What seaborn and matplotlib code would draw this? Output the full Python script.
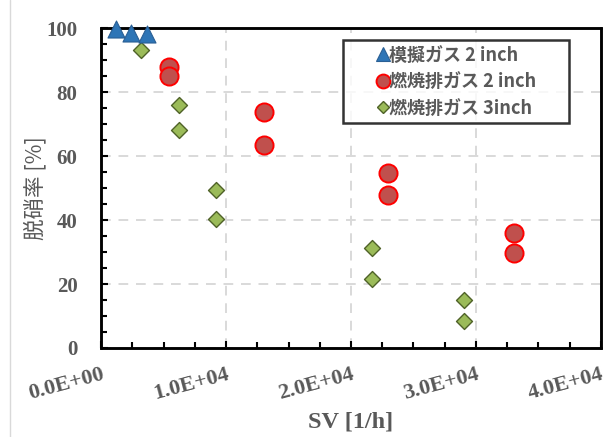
import numpy as np
import pandas as pd
import matplotlib
matplotlib.use('Agg')
import matplotlib.pyplot as plt
import seaborn as sns
from matplotlib.ticker import MultipleLocator, FuncFormatter
from matplotlib.lines import Line2D
from matplotlib.patches import Rectangle

# data
sim_sv = [1200, 2400, 3650]
sim_nox = [99.6, 98.6, 98.3]

comb2_sv = [5400, 5400, 13000, 13000, 23000, 23000, 33050, 33050]
comb2_nox = [87.8, 84.9, 73.9, 63.5, 54.6, 47.9, 35.9, 29.7]

comb3_sv = [3200, 6200, 6200, 9200, 9200, 21700, 21700, 29050, 29050]
comb3_nox = [93.2, 76.0, 68.1, 49.3, 40.2, 31.3, 21.6, 15.1, 8.3]

labels = ['模擬ガス 2 inch', '燃焼排ガス 2 inch', '燃焼排ガス 3inch']

sns.set_style('white')
plt.rcParams['font.family'] = ['Noto Sans CJK JP', 'DejaVu Sans']

gray = '#595959'

fig = plt.figure(figsize=(6.06, 4.37), dpi=100)
ax = fig.add_axes([0.1667, 0.2037, 0.825, 0.732])

ax.grid(True, which='major', color='#D9D9D9', linestyle=(0, (5, 4)), linewidth=1.4)
ax.set_axisbelow(True)

df_sim = pd.DataFrame({'sv': sim_sv, 'nox': sim_nox})
df_c2 = pd.DataFrame({'sv': comb2_sv, 'nox': comb2_nox})
df_c3 = pd.DataFrame({'sv': comb3_sv, 'nox': comb3_nox})

sns.scatterplot(data=df_sim, x='sv', y='nox', ax=ax, marker='^', s=150,
                color='#2E75B6', edgecolor='#2A5F94', linewidth=0.8,
                clip_on=False, zorder=7)
sns.scatterplot(data=df_c2, x='sv', y='nox', ax=ax, marker='o', s=170,
                color='#C0504D', edgecolor='#FF0000', linewidth=1.4,
                clip_on=False, zorder=4)
sns.scatterplot(data=df_c3, x='sv', y='nox', ax=ax, marker='D', s=66,
                color='#9BBB59', edgecolor='#4F6228', linewidth=1.0,
                clip_on=False, zorder=4)

ax.set_xlim(0, 40000)
ax.set_ylim(0, 100)
ax.xaxis.set_major_locator(MultipleLocator(10000))
ax.xaxis.set_minor_locator(MultipleLocator(2500))
ax.yaxis.set_major_locator(MultipleLocator(20))
ax.yaxis.set_minor_locator(MultipleLocator(5))
ax.xaxis.set_major_formatter(FuncFormatter(lambda v, p: f'{v:.1E}'))

for s in ax.spines.values():
    s.set_visible(True)
    s.set_color('black')
    s.set_linewidth(1.8)
    s.set_zorder(6)
# plot area frame (full box like the original)
ax.add_patch(Rectangle((0, 0), 1, 1, transform=ax.transAxes, fill=False,
                       edgecolor='black', linewidth=1.8, clip_on=False, zorder=6))

ax.tick_params(which='both', direction='in', bottom=True, left=True,
               top=False, right=False, color='black', width=1.5)
ax.tick_params(which='major', length=5)
ax.tick_params(which='minor', length=4)
ax.tick_params(axis='y', pad=17)
ax.tick_params(axis='x', pad=12)

for t in ax.get_yticklabels():
    t.set_fontfamily('Liberation Serif')
    t.set_fontweight('bold')
    t.set_fontsize(15)
    t.set_color(gray)
for t in ax.get_xticklabels():
    t.set_fontfamily('Liberation Serif')
    t.set_fontweight('bold')
    t.set_fontsize(16)
    t.set_color(gray)
    t.set_rotation(15)
    t.set_ha('right')
    t.set_va('top')
    t.set_rotation_mode('anchor')

ax.set_xlabel('SV [1/h]', fontfamily='Liberation Serif', fontweight='bold',
              fontsize=17.5, color=gray, labelpad=5)
ax.set_ylabel('脱硝率 [%]', fontsize=15.5, color=gray, labelpad=0)

handles = [
    Line2D([], [], linestyle='none', marker='^', markersize=10,
           markerfacecolor='#2E75B6', markeredgecolor='#2A5F94', markeredgewidth=0.8),
    Line2D([], [], linestyle='none', marker='o', markersize=10,
           markerfacecolor='#C0504D', markeredgecolor='#FF0000', markeredgewidth=1.4),
    Line2D([], [], linestyle='none', marker='D', markersize=6.5,
           markerfacecolor='#9BBB59', markeredgecolor='#4F6228', markeredgewidth=1.0),
]
leg = ax.legend(handles, labels, loc='upper left', mode='expand',
                bbox_to_anchor=(0.484, 0.5, 0.452, 0.4625),
                frameon=True, fancybox=False, handletextpad=-1.55,
                handlelength=3.8, borderpad=0.3, labelspacing=0.42,
                borderaxespad=0, prop={'family': ['Noto Sans CJK JP'], 'weight': 'bold', 'size': 13})
leg.get_frame().set_edgecolor('black')
leg.get_frame().set_linewidth(1.8)
for t in leg.get_texts():
    t.set_color(gray)

fig.add_artist(Line2D([10 / 606, 10 / 606], [0, 1], color='#D9D9D9', linewidth=1.0))

fig.savefig('out.png', dpi=100)
